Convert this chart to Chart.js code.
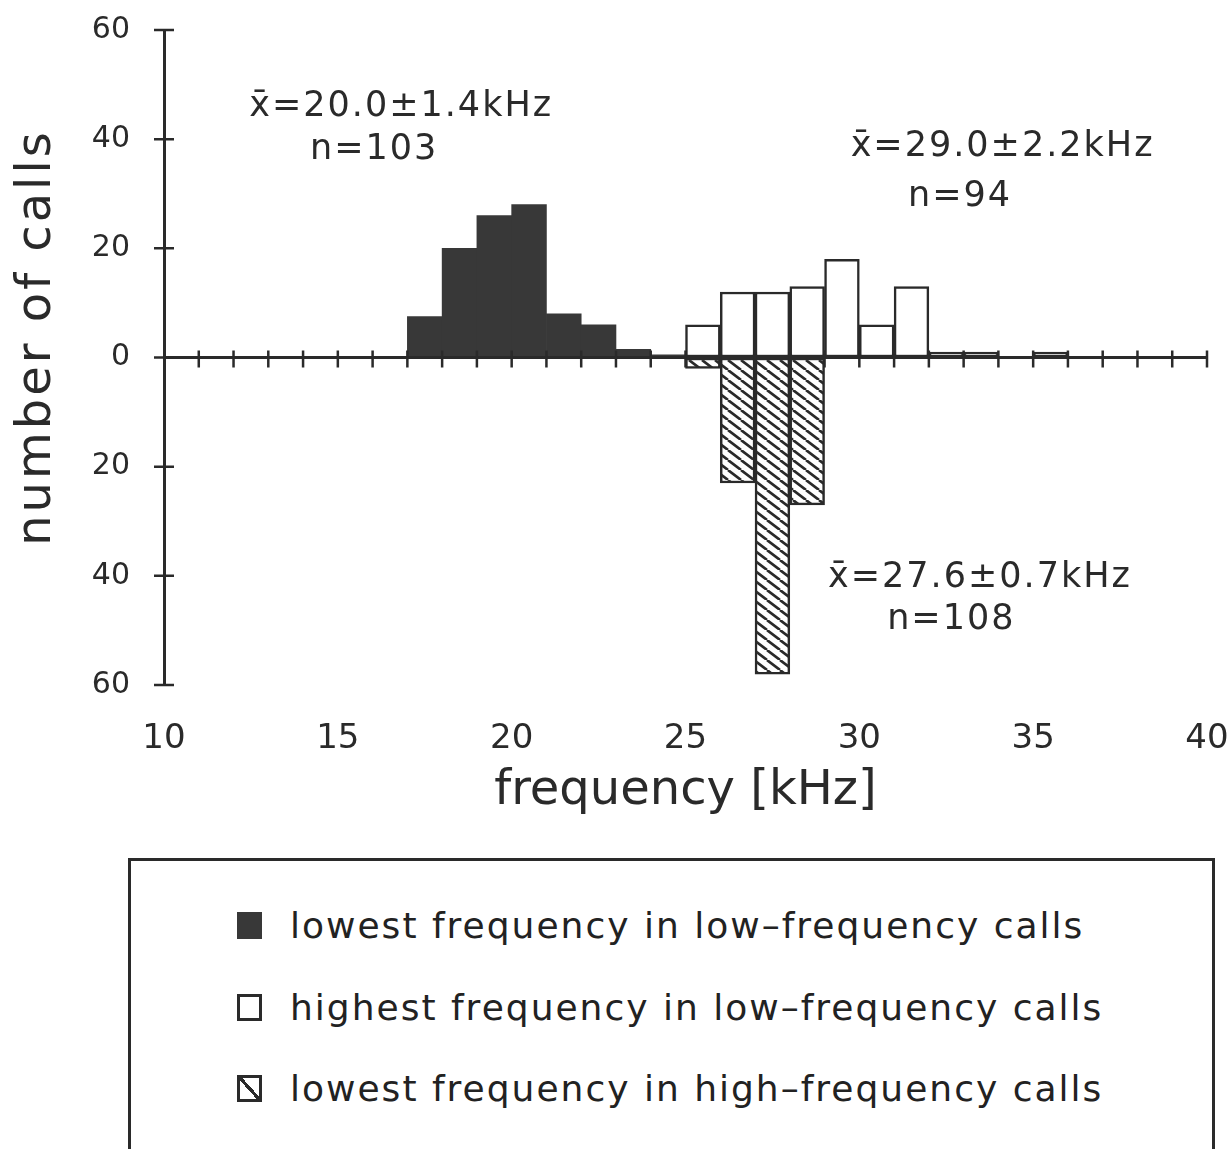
<!DOCTYPE html>
<html>
<head>
<meta charset="utf-8">
<title>number of calls by frequency</title>
<script src="https://cdn.jsdelivr.net/npm/chart.js@4.4.1/dist/chart.umd.min.js"></script>
<style>
  body { margin: 0; background: #fff; font-family: "DejaVu Sans", sans-serif; color: #222; }
  #wrap { position: relative; width: 1231px; height: 1149px; overflow: hidden; }
  #chart { position: absolute; left: 0; top: 0; }
  #legend { position: absolute; left: 128px; top: 858px; width: 1081px; height: 320px; border: 3px solid #2a2a2a; border-bottom: none; }
  .item { position: absolute; left: 106px; height: 40px; display: flex; align-items: center; font-size: 36px; letter-spacing: 2px; white-space: nowrap; }
  .swatch { width: 25px; height: 27px; margin-right: 28px; box-sizing: border-box; flex: none; }
</style>
</head>
<body>
<div id="wrap">
  <canvas id="chart" width="1231" height="850"></canvas>
  <div id="legend"></div>
</div>
<script>
// histogram bins are 1 kHz wide, given by their lower edge
const lowLowStart = [17, 18, 19, 20, 21, 22, 23, 24];
const lowLowCount = [7.5, 20, 26, 28, 8, 6, 1.5, 0.5];
const highLowStart = [25, 26, 27, 28, 29, 30, 31, 32, 33, 35];
const highLowCount = [6, 12, 12, 13, 18, 6, 13, 1, 1, 1];
const lowHighStart = [25, 26, 27, 28];
const lowHighCount = [-2, -23, -58, -27]; // plotted downwards

const seriesNames = [
    'lowest frequency in low\u2013frequency calls',
    'highest frequency in low\u2013frequency calls',
    'lowest frequency in high\u2013frequency calls'
];
const xTicks = [10, 15, 20, 25, 30, 35, 40];
const yTicks = [-60, -40, -20, 0, 20, 40, 60];
const yTitle = 'number of calls';
const noteLines = [
    ['x\u0304=20.0\u00b11.4kHz', 'n=103'],
    ['x\u0304=29.0\u00b12.2kHz', 'n=94'],
    ['x\u0304=27.6\u00b10.7kHz', 'n=108']
];

const ink = '#2a2a2a';
const font = '"DejaVu Sans", sans-serif';

// where the notes sit, in axis units (left edge, middle of line)
const notePlaces = [
    [[12.45, 45.9], [14.2, 38.0]],
    [[29.75, 38.5], [31.4, 29.4]],
    [[29.1, -40.4], [30.8, -48.1]]
];

function toBins(starts, counts) {
    return starts.map((s, i) => ({ x: s + 0.5, y: counts[i] }));
}

function makeHatch() {
    const w = 13, h = 10;
    const c = document.createElement('canvas');
    c.width = w; c.height = h;
    const g = c.getContext('2d');
    g.fillStyle = '#fff';
    g.fillRect(0, 0, w, h);
    g.strokeStyle = ink;
    g.lineWidth = 2.6;
    g.beginPath();
    for (const k of [-w, 0, w]) {
        g.moveTo(k, 0);
        g.lineTo(k + w, h);
    }
    g.stroke();
    return g.createPattern(c, 'repeat');
}

// zero line with 1 kHz marks, and marks across the y axis
const axisMarks = {
    id: 'axisMarks',
    afterDatasetsDraw(chart) {
        const { ctx, scales: { x, y } } = chart;
        const x0 = x.getPixelForValue(xTicks[0]);
        const x1 = x.getPixelForValue(xTicks[xTicks.length - 1]);
        const y0 = y.getPixelForValue(0);
        ctx.save();
        ctx.strokeStyle = ink;
        ctx.lineWidth = 3;
        ctx.beginPath();
        ctx.moveTo(x0, y0);
        ctx.lineTo(x1, y0);
        ctx.stroke();
        ctx.lineWidth = 2.5;
        ctx.beginPath();
        for (let k = xTicks[0] + 1; k <= xTicks[xTicks.length - 1]; k++) {
            const px = x.getPixelForValue(k);
            ctx.moveTo(px, y0 - 7);
            ctx.lineTo(px, y0 + 10);
        }
        yTicks.forEach(v => {
            const py = y.getPixelForValue(v);
            ctx.moveTo(x0 - 10, py);
            ctx.lineTo(x0 + 10, py);
        });
        ctx.stroke();
        ctx.restore();
    }
};

// mean / n notes and the rotated y title
const notes = {
    id: 'notes',
    afterDraw(chart) {
        const { ctx, chartArea, scales: { x, y } } = chart;
        ctx.save();
        ctx.font = '35px ' + font;
        ctx.letterSpacing = '2px';
        ctx.fillStyle = ink;
        ctx.textAlign = 'left';
        ctx.textBaseline = 'middle';
        noteLines.forEach((lines, i) => {
            lines.forEach((text, j) => {
                const p = notePlaces[i][j];
                ctx.fillText(text, x.getPixelForValue(p[0]), y.getPixelForValue(p[1]));
            });
        });
        ctx.translate(38, (chartArea.top + chartArea.bottom) / 2 - 20);
        ctx.rotate(-Math.PI / 2);
        ctx.font = '48px ' + font;
        ctx.letterSpacing = '3px';
        ctx.textAlign = 'center';
        ctx.fillText(yTitle, 0, 0);
        ctx.restore();
    }
};

const ctx = document.getElementById('chart').getContext('2d');
const hatch = makeHatch();

const chart = new Chart(ctx, {
    type: 'bar',
    data: {
        datasets: [{
            label: seriesNames[0],
            data: toBins(lowLowStart, lowLowCount),
            backgroundColor: '#383838',
            borderWidth: 0
        }, {
            label: seriesNames[1],
            data: toBins(highLowStart, highLowCount),
            backgroundColor: '#fff',
            borderColor: ink,
            borderWidth: 2.5,
            borderSkipped: false
        }, {
            label: seriesNames[2],
            data: toBins(lowHighStart, lowHighCount),
            backgroundColor: hatch,
            borderColor: ink,
            borderWidth: 2.5,
            borderSkipped: false
        }]
    },
    options: {
        responsive: false,
        animation: false,
        devicePixelRatio: 1,
        datasets: {
            bar: { grouped: false, barPercentage: 1, categoryPercentage: 1 }
        },
        layout: { padding: { top: 30, right: 24, left: 0, bottom: 0 } },
        plugins: {
            legend: { display: false },
            tooltip: { enabled: false }
        },
        scales: {
            x: {
                type: 'linear',
                min: 10,
                max: 40,
                offset: false,
                grid: { display: true, drawOnChartArea: false, color: 'rgba(0,0,0,0)', tickLength: 32, offset: false },
                border: { display: false },
                afterBuildTicks: s => { s.ticks = xTicks.map(v => ({ value: v })); },
                afterFit: s => { s.height = 165; },
                ticks: {
                    color: ink,
                    padding: 2,
                    maxRotation: 0,
                    autoSkip: false,
                    font: { family: font, size: 34 }
                },
                title: {
                    display: true,
                    text: 'frequency [kHz]',
                    color: ink,
                    font: { family: font, size: 48 },
                    padding: { top: 0, bottom: 30 }
                }
            },
            y: {
                type: 'linear',
                min: -60,
                max: 60,
                grid: { display: true, drawOnChartArea: false, color: 'rgba(0,0,0,0)', tickLength: 30 },
                border: { display: true, color: ink, width: 3 },
                afterBuildTicks: s => { s.ticks = yTicks.map(v => ({ value: v })); },
                afterFit: s => { s.width = 164; },
                ticks: {
                    color: ink,
                    padding: 4,
                    font: { family: font, size: 30 },
                    callback: v => Math.abs(v)
                }
            }
        }
    },
    plugins: [axisMarks, notes]
});

// legend box under the chart, built from the datasets
const legend = document.getElementById('legend');
const rowTops = [44, 126, 207];
chart.data.datasets.forEach((ds, i) => {
    const item = document.createElement('div');
    item.className = 'item';
    item.style.top = rowTops[i] + 'px';
    const sw = document.createElement('span');
    sw.className = 'swatch';
    if (i === 0) {
        sw.style.background = ds.backgroundColor;
    } else {
        sw.style.border = '3px solid ' + ink;
        if (i === 2) {
            sw.style.background = 'linear-gradient(to top right, transparent 44%, ' + ink + ' 44%, ' + ink + ' 56%, transparent 56%)';
        }
    }
    const label = document.createElement('span');
    label.textContent = ds.label;
    item.appendChild(sw);
    item.appendChild(label);
    legend.appendChild(item);
});
</script>
</body>
</html>
